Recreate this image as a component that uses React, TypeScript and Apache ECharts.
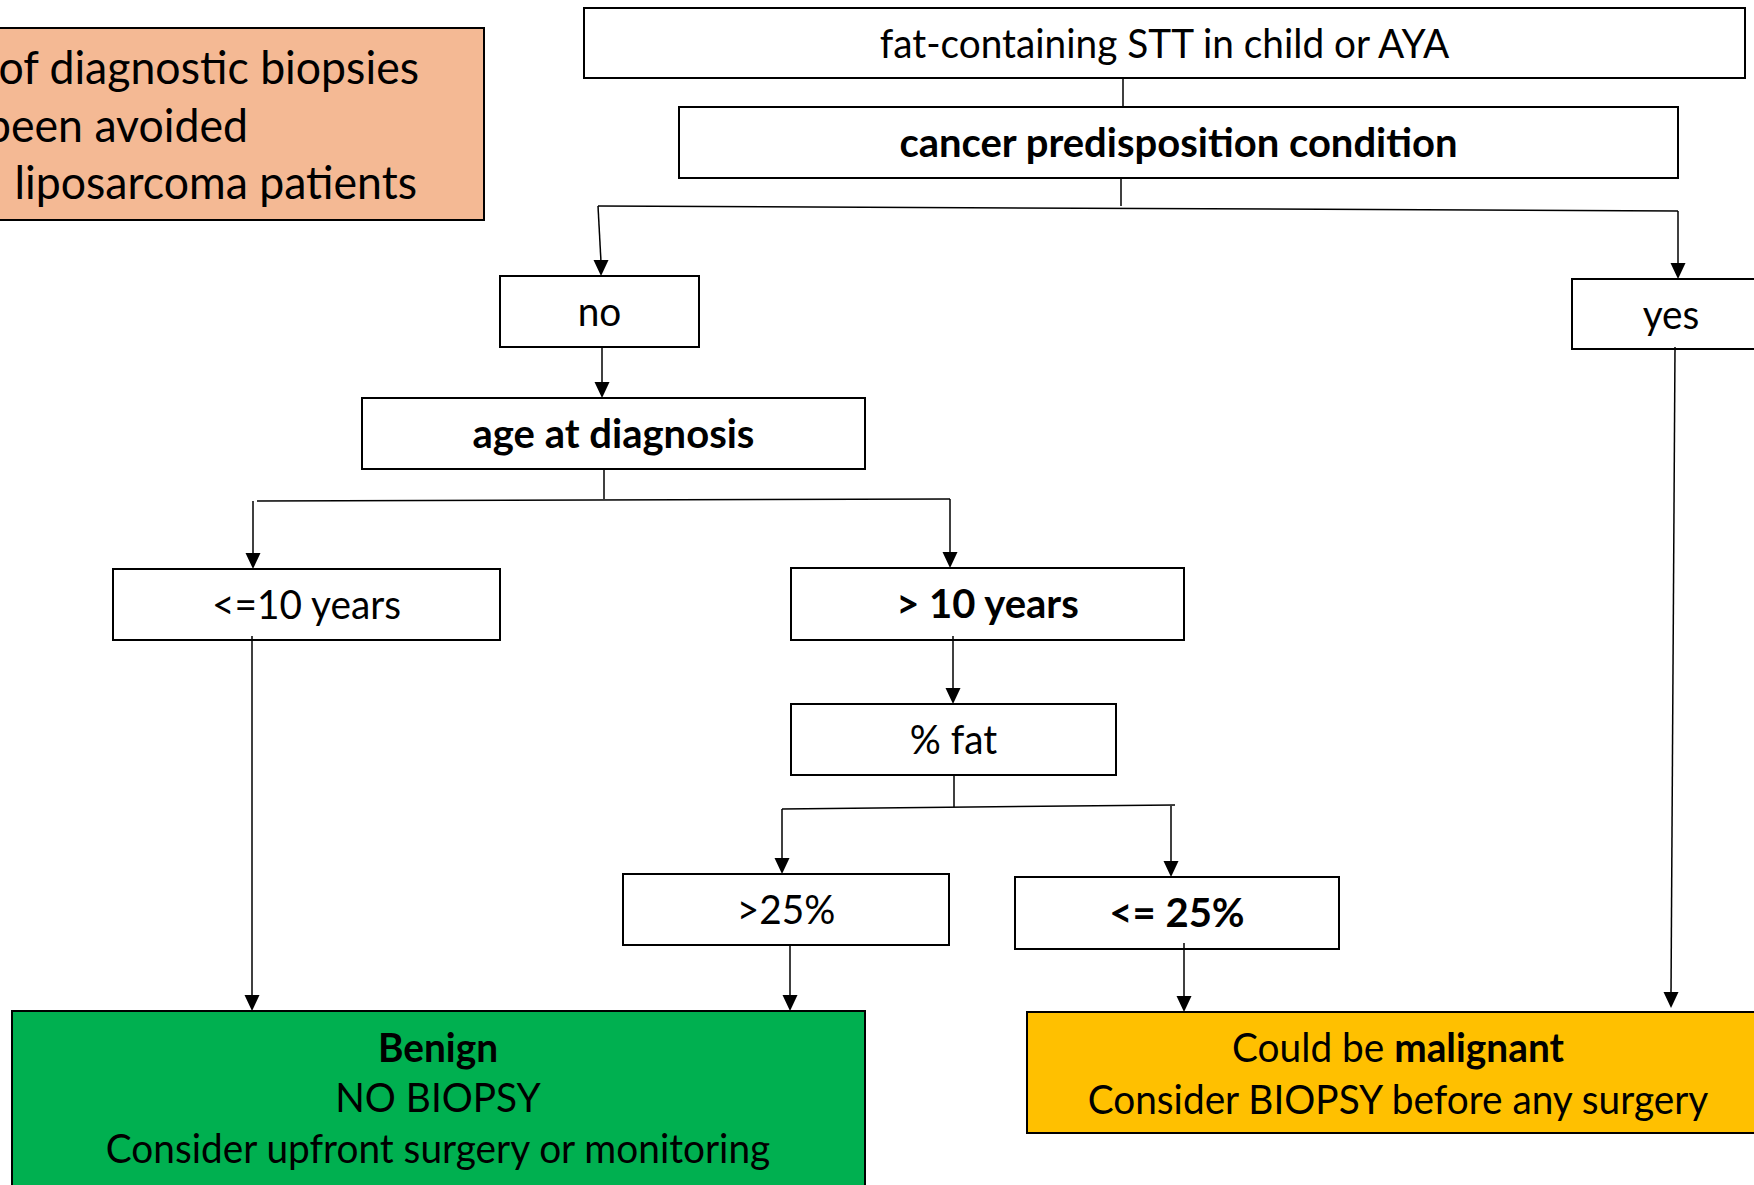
import React, { useEffect, useRef } from "react";
import * as echarts from "echarts";

const FONT = "Lato, 'Noto Sans', sans-serif";
const FS = 40;
const FS_NOTE = 46;
const SX = 0.97;
const SXB = 1.0;

// ---- content ----
const nodeLabels = [
  "fat-containing STT in child or AYA",
  "cancer predisposition condition",
  "no",
  "yes",
  "age at diagnosis",
  "<=10 years",
  "> 10 years",
  "% fat",
  ">25%",
  "<= 25%",
];
const nodeBold = [false, true, false, false, true, false, true, false, false, true];
const benignLines = ["{b|Benign}", "NO BIOPSY", "Consider upfront surgery or monitoring"];
const malignantLines = ["Could be {b|malignant}", "Consider BIOPSY before any surgery"];
const noteLines = ["of diagnostic biopsies", "been avoided", "liposarcoma patients"];
const fillBenign = "#00B050";
const fillMalignant = "#FFC000";
const fillNote = "#F4B994";

export default function App() {
  const ref = useRef<HTMLDivElement>(null);
  useEffect(() => {
    if (!ref.current) return;
    const chart = echarts.init(ref.current, null, { renderer: "svg" });

    // layout (x, y, w, h)
    const nodeBoxes = [
      [584, 8, 1161, 70],
      [679, 107, 999, 71],
      [500, 276, 199, 71],
      [1572, 279, 198, 70],
      [362, 398, 503, 71],
      [113, 569, 387, 71],
      [791, 568, 393, 72],
      [791, 704, 325, 71],
      [623, 874, 326, 71],
      [1015, 877, 324, 72],
    ];
    const benignBox = [12, 1011, 853, 190];
    const malignantBox = [1027, 1012, 742, 121];
    const noteBox = [-10, 28, 494, 192];

    const els: any[] = [];
    const rect = (b: number[], fill: string) =>
      els.push({
        type: "rect",
        shape: { x: b[0], y: b[1], width: b[2], height: b[3] },
        style: { fill, stroke: "#000", lineWidth: 2 },
      });
    const txt = (x: number, y: number, text: string, bold: boolean, align = "center", fs = FS) =>
      els.push({
        type: "text",
        x,
        y,
        scaleX: bold ? SXB : SX,
        style: {
          text,
          x: 0,
          y: 0,
          fontSize: fs,
          fontFamily: FONT,
          fontWeight: bold ? "bold" : "normal",
          fill: "#000",
          align,
          verticalAlign: "middle",
          rich: { b: { fontSize: fs, fontFamily: FONT, fontWeight: "bold", fill: "#000" } },
        },
      });
    const line = (x1: number, y1: number, x2: number, y2: number) =>
      els.push({
        type: "line",
        shape: { x1, y1, x2, y2 },
        style: { stroke: "#000", lineWidth: 1.5 },
      });
    const arrow = (x1: number, y1: number, x2: number, y2: number) => {
      line(x1, y1, x2, y2 - 14);
      els.push({
        type: "polygon",
        shape: { points: [[x2 - 7.5, y2 - 16], [x2 + 7.5, y2 - 16], [x2, y2]] },
        style: { fill: "#000" },
      });
    };

    // note box
    rect(noteBox, fillNote);
    const noteRight = [419, 248, 417];
    const noteY = [66, 124, 181];
    noteLines.forEach((t, i) => txt(noteRight[i], noteY[i], t, false, "right", FS_NOTE));

    // nodes
    nodeBoxes.forEach((b, i) => {
      rect(b, "#fff");
      txt(b[0] + b[2] / 2, b[1] + b[3] / 2 - 1, nodeLabels[i], nodeBold[i]);
    });

    // outcomes
    rect(benignBox, fillBenign);
    const by = [1046, 1096, 1147];
    benignLines.forEach((t, i) => txt(438, by[i], t, false));
    rect(malignantBox, fillMalignant);
    const my = [1046, 1098];
    malignantLines.forEach((t, i) => txt(1398, my[i], t, false));

    // connectors
    line(1123, 78, 1123, 107);
    line(1121, 178, 1121, 206);
    line(598, 206, 1678, 211);
    arrow(598, 206, 601, 276);
    arrow(1678, 211, 1678, 279);
    arrow(602, 347, 602, 398);
    line(604, 469, 604, 499);
    line(257, 501, 950, 499);
    arrow(253, 501, 253, 569);
    arrow(950, 499, 950, 568);
    arrow(953, 636, 953, 704);
    line(954, 775, 954, 807);
    line(782, 809, 1175, 805);
    arrow(782, 809, 782, 874);
    arrow(1171, 806, 1171, 877);
    arrow(252, 636, 252, 1011);
    arrow(790, 945, 790, 1011);
    arrow(1184, 943, 1184, 1012);
    arrow(1675, 347, 1671, 1008);

    chart.setOption({ animation: false, graphic: { elements: els } });
    return () => chart.dispose();
  }, []);
  return (
    <div
      ref={ref}
      style={{ position: "fixed", left: 0, top: 0, width: 1754, height: 1185, background: "#fff" }}
    />
  );
}
